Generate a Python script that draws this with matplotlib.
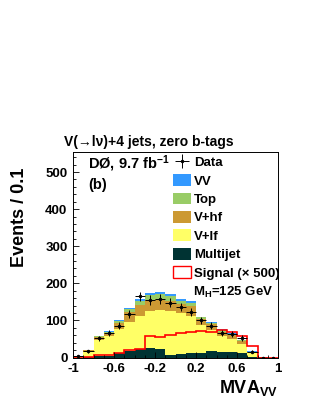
import numpy as np
import matplotlib
matplotlib.use("Agg")
import matplotlib.pyplot as plt
from matplotlib.patches import Patch
from matplotlib.ticker import MultipleLocator

plt.rcParams['font.family'] = ['Liberation Sans', 'DejaVu Sans']
plt.rcParams['font.weight'] = 'bold'
plt.rcParams['mathtext.fontset'] = 'custom'
plt.rcParams['mathtext.rm'] = 'Liberation Sans:bold'
plt.rcParams['mathtext.it'] = 'Liberation Sans:bold'
plt.rcParams['mathtext.bf'] = 'Liberation Sans:bold'

edges = np.linspace(-1, 1, 21)
multijet = [0, 0.5, 3, 5, 13, 18, 23, 25, 24, 8, 10, 11, 12, 17, 14, 14, 13, 2, 0.2, 0]
v_lf = [1.5, 15.5, 43, 52, 63, 79, 90, 100, 104, 117, 110, 101, 76, 56, 43, 36, 24, 9, 0.1, 0]
v_hf = [0.5, 3, 8, 10, 16, 25, 29, 30, 30, 28, 25, 26, 16, 17, 13, 11, 7, 4, 0.1, 0]
top = [0.2, 1, 3, 3, 6, 8, 11, 13, 14, 13, 8, 10, 4, 4, 4, 3, 2, 1, 0, 0]
vv = [0.1, 1, 1, 2, 3, 4, 5, 6, 5, 5, 4, 4, 2, 2, 2, 2, 1, 1, 0, 0]
data = [3, 17, 52, 65, 86, 116, 165, 155, 158, 148, 136, 123, 100, 86, 67, 64, 53, 16, 0, 0]
signal_x500 = [1, 2, 7, 7, 13, 19, 24, 57, 55, 60, 65, 69, 72, 69, 75, 70, 57, 31, 0, 0]

components = [("Multijet", multijet, "#003333"),
              ("V+lf", v_lf, "#ffff66"),
              ("V+hf", v_hf, "#cc9933"),
              ("Top", top, "#99cc66"),
              ("VV", vv, "#3399ff")]

fig = plt.figure(figsize=(3.16, 4.09), dpi=100)
ax = fig.add_axes([73/316, 1-357.5/409, 205/316, 205.5/409])

base = np.zeros(20)
for name, vals, col in components:
    cum = base + np.array(vals)
    ax.stairs(cum, edges, baseline=base, fill=True, color=col, lw=0)
    base = cum

ax.stairs(signal_x500, edges, color="red", lw=1.2)

centers = 0.5 * (edges[:-1] + edges[1:])
d = np.array(data, dtype=float)
yerr = np.where(d > 0, np.sqrt(d), 1.0)
eb = ax.errorbar(centers, d, xerr=0.05, yerr=yerr, fmt='o', ms=1.5, color='black',
                 elinewidth=0.7, capsize=0)

ax.set_xlim(-1, 1)
ax.set_ylim(0, 554)
ax.xaxis.set_major_locator(MultipleLocator(0.4))
ax.xaxis.set_minor_locator(MultipleLocator(0.1))
ax.yaxis.set_major_locator(MultipleLocator(100))
ax.yaxis.set_minor_locator(MultipleLocator(20))
ax.set_xticks([-1, -0.6, -0.2, 0.2, 0.6, 1])
ax.set_xticklabels(["-1", "-0.6", "-0.2", "0.2", "0.6", "1"])
ax.tick_params(which='both', direction='in', top=False, right=False, labelsize=9.5, width=0.6)
ax.tick_params(which='major', length=4.2)
ax.tick_params(which='minor', length=2.2)
ax.tick_params(axis='y', pad=4)
ax.tick_params(axis='x', pad=4)
for s in ax.spines.values():
    s.set_linewidth(0.7)

handles = [eb] + [Patch(facecolor=c, edgecolor='none') for _, _, c in components[::-1]]
labels = ["Data"] + [n for n, _, _ in components[::-1]]
handles.append(Patch(facecolor='white', edgecolor='red', lw=1.0))
labels.append("Signal (× 500)")
ax.legend(handles, labels, loc='upper left', bbox_to_anchor=(0.488, 0.982),
          frameon=False, fontsize=9.5, borderpad=0, borderaxespad=0,
          handlelength=1.35, handleheight=1.0, handletextpad=0.25, labelspacing=0.38)

ax.text(0.585, 0.317, r"$\mathrm{M_H}$=125 GeV", transform=ax.transAxes, fontsize=9.5,
        va='center', ha='left')
ax.text(0.075, 0.945, r"DØ, 9.7 fb$^{-1}$", transform=ax.transAxes, fontsize=10.5,
        va='center', ha='left')
ax.text(0.075, 0.84, "(b)", transform=ax.transAxes, fontsize=10.5, va='center', ha='left')

fig.text(149/316, 1-142/409, "V(→lν)+4 jets, zero b-tags", ha='center', va='center', fontsize=10)
fig.text(20/316, 1-168/409, "Events / 0.1", rotation=90, ha='center', va='top', fontsize=13)
fig.text(278/316, 1-388/409, r"MVA$_{\mathrm{VV}}$", ha='right', va='center', fontsize=13)

fig.savefig("out.png", dpi=100)
